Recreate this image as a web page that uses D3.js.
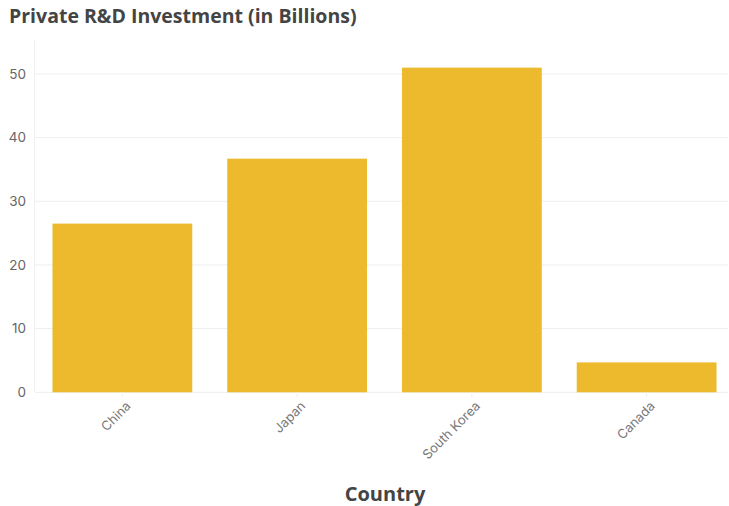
<!DOCTYPE html>
<html><head><meta charset="utf-8">
<script src="https://cdn.jsdelivr.net/npm/d3@7"></script>
<style>body{margin:0;background:#fff;} svg{display:block;font-family:"Open Sans","Noto Sans",sans-serif;}</style>
</head><body>
<svg id="c" width="729" height="506"></svg>
<script>
const categories = ["China", "Japan", "South Korea", "Canada"];
const values = [26.5, 36.7, 51.0, 4.7];
const yTicks = [0, 10, 20, 30, 40, 50];
const title = "Private R&D Investment (in Billions)";
const xTitle = "Country";

const svg = d3.select("#c");
const x = d3.scaleBand().domain(categories).range([35, 734]).paddingInner(0.2).paddingOuter(0.1);
const y = d3.scaleLinear().domain([0, 50]).range([392.3, 74]);

// grid
svg.append("g").selectAll("line").data(yTicks).join("line")
  .attr("x1", 35).attr("x2", 728).attr("y1", d => y(d)).attr("y2", d => y(d))
  .attr("stroke", "#eeeeee").attr("stroke-width", 1);
svg.append("line").attr("x1", 34.5).attr("x2", 34.5).attr("y1", 40).attr("y2", 392)
  .attr("stroke", "#f1f1f1");

// bars
svg.append("g").selectAll("rect").data(categories).join("rect")
  .attr("x", d => x(d)).attr("width", x.bandwidth())
  .attr("y", (d, i) => y(values[i])).attr("height", (d, i) => y(0) - y(values[i]))
  .attr("fill", "#EDBA2E");

// y axis
const ya = svg.append("g").attr("transform", "translate(30,0)")
  .call(d3.axisLeft(y).tickValues(yTicks).tickSize(0).tickPadding(4));
ya.select(".domain").remove();
ya.selectAll("text").attr("fill", "#666").attr("font-size", 13.5).attr("font-family", "Inter, 'Open Sans', sans-serif");

// x axis
const xa = svg.append("g").attr("transform", "translate(0,392.3)")
  .call(d3.axisBottom(x).tickSize(5).tickPadding(4));
xa.select(".domain").remove();
xa.selectAll("line").attr("stroke", "#eeeeee");
xa.selectAll("text").attr("fill", "#777").attr("font-size", 13)
  .attr("font-family", "Inter, 'Open Sans', sans-serif")
  .attr("text-anchor", "end").attr("dx", "-0.3em").attr("dy", "0.6em")
  .attr("transform", "rotate(-45)");

// titles
svg.append("text").attr("x", 9).attr("y", 23).text(title)
  .attr("font-size", 19.5).attr("font-weight", "bold").attr("fill", "#444")
  .attr("font-family", "'Open Sans', sans-serif");
svg.append("text").attr("x", 385).attr("y", 501).attr("text-anchor", "middle").text(xTitle)
  .attr("font-size", 20).attr("font-weight", "bold").attr("fill", "#444")
  .attr("font-family", "'Open Sans', sans-serif");
</script>
</body></html>
